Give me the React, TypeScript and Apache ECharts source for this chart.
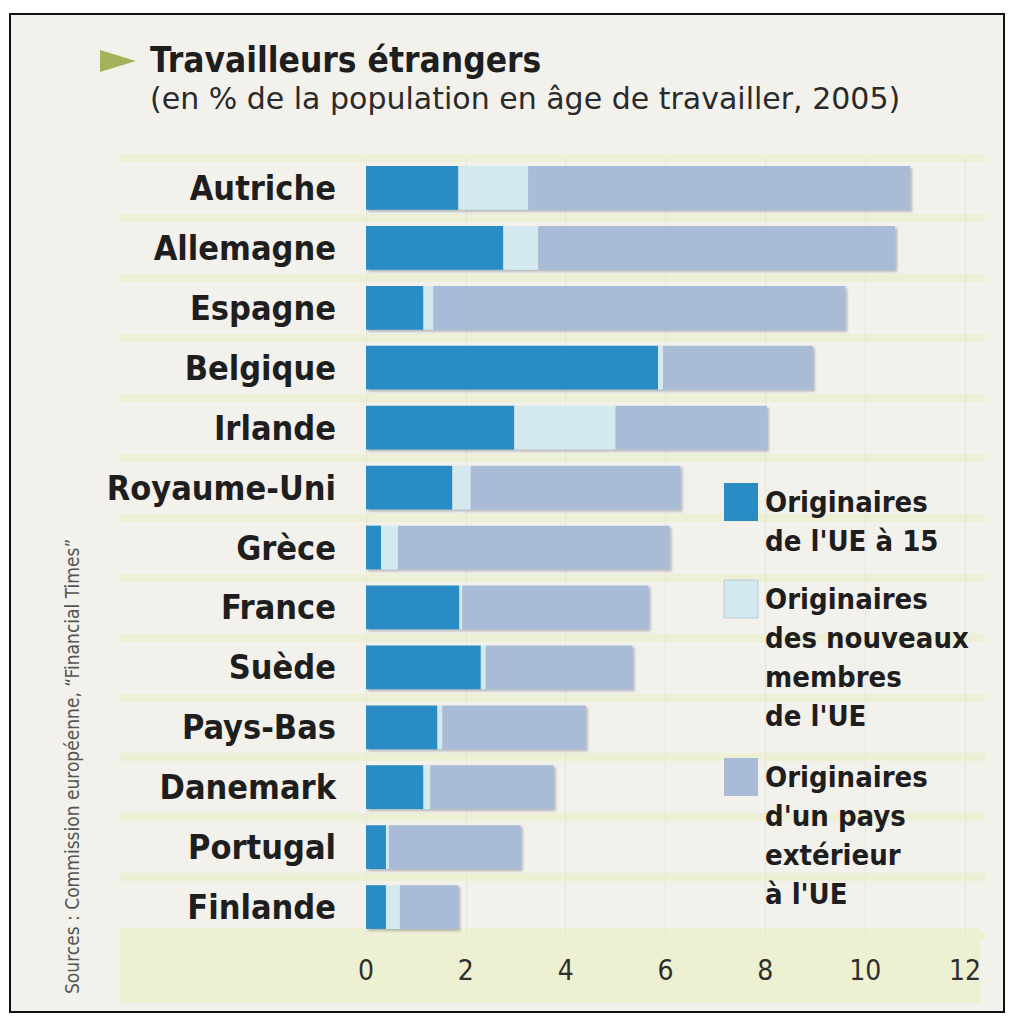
import React, { useEffect, useRef } from "react";
import * as echarts from "echarts";

const categories = [
  "Autriche", "Allemagne", "Espagne", "Belgique", "Irlande", "Royaume-Uni",
  "Grèce", "France", "Suède", "Pays-Bas", "Danemark", "Portugal", "Finlande",
];
const ue15 = [1.85, 2.75, 1.15, 5.85, 2.97, 1.73, 0.3, 1.87, 2.3, 1.43, 1.15, 0.4, 0.4];
const nouveauxMembres = [1.4, 0.7, 0.2, 0.1, 2.03, 0.37, 0.34, 0.06, 0.1, 0.1, 0.14, 0.06, 0.28];
const paysExterieurs = [7.65, 7.15, 8.25, 3.0, 3.03, 4.2, 5.44, 3.73, 2.94, 2.87, 2.47, 2.64, 1.17];
const xTicks = [0, 2, 4, 6, 8, 10, 12];

const seriesNames = [
  "Originaires\nde l'UE à 15",
  "Originaires\ndes nouveaux\nmembres\nde l'UE",
  "Originaires\nd'un pays\nextérieur\nà l'UE",
];
const colors = ["#2a8cc4", "#d3e8ef", "#a9bbd7"];

const FONT = "'DejaVu Sans Condensed', 'Liberation Sans Narrow', 'DejaVu Sans', sans-serif";
const FONT_WIDE = "'DejaVu Sans', sans-serif";

export default function App() {
  const ref = useRef<HTMLDivElement>(null);
  useEffect(() => {
    document.body.style.margin = "0";
    const chart = echarts.init(ref.current!, undefined, { renderer: "svg" });
    const barStyle = (c: string) => ({
      color: c,
      shadowColor: "rgba(60,70,90,0.35)",
      shadowOffsetX: 2,
      shadowOffsetY: 2,
      shadowBlur: 2,
    });
    chart.setOption({
      animation: false,
      backgroundColor: "#ffffff",
      grid: [
        { left: 366, right: 46, top: 158, bottom: 84 },
        { left: 120, right: 26, top: 158, bottom: 84 },
      ],
      xAxis: [
        {
          gridIndex: 0,
          type: "value",
          min: 0,
          max: 12,
          interval: 2,
          axisLine: { show: false },
          axisTick: { show: false },
          splitLine: { show: true, lineStyle: { color: "#e6e6da", width: 1 } },
          axisLabel: {
            margin: 19,
            fontFamily: FONT,
            fontSize: 28,
            color: "#2e2e2e",
            formatter: (v: number) => (xTicks.includes(v) ? String(v) : ""),
          },
        },
        { gridIndex: 1, type: "value", show: false, min: 0, max: 1 },
      ],
      yAxis: [
        {
          gridIndex: 0,
          type: "category",
          data: categories,
          inverse: true,
          axisLine: { show: false },
          axisTick: { show: false },
          splitLine: { show: false },
          axisLabel: {
            margin: 30,
            fontFamily: FONT,
            fontWeight: "bold",
            fontSize: 34,
            color: "#1e1e1e",
          },
        },
        {
          gridIndex: 1,
          type: "category",
          data: categories,
          inverse: true,
          axisLine: { show: false },
          axisTick: { show: false },
          axisLabel: { show: false },
          splitLine: { show: true, lineStyle: { color: "#eef0d6", width: 8 } },
        },
      ],
      series: [
        {
          name: seriesNames[0],
          type: "bar",
          stack: "total",
          barWidth: "73%",
          data: ue15,
          itemStyle: barStyle(colors[0]),
        },
        {
          name: seriesNames[1],
          type: "bar",
          stack: "total",
          barWidth: "73%",
          data: nouveauxMembres,
          itemStyle: barStyle(colors[1]),
        },
        {
          name: seriesNames[2],
          type: "bar",
          stack: "total",
          barWidth: "73%",
          data: paysExterieurs,
          itemStyle: barStyle(colors[2]),
        },
      ],
      graphic: [
        {
          type: "rect",
          z: -100,
          shape: { x: 10, y: 14, width: 994, height: 998 },
          style: { fill: "#f3f1ec", stroke: "#111", lineWidth: 2 },
        },
        {
          type: "rect",
          z: -90,
          shape: { x: 120, y: 928, width: 860, height: 75 },
          style: { fill: "#eef0d2" },
        },
        {
          type: "polygon",
          z: 100,
          shape: { points: [[100, 50], [136, 61], [100, 72]] },
          style: { fill: "#a3b35c" },
        },
        {
          type: "text",
          z: 100,
          x: 150,
          y: 42,
          style: {
            text: "Travailleurs étrangers",
            font: `bold 35px ${FONT}`,
            fill: "#1e1e1e",
          },
        },
        {
          type: "text",
          z: 100,
          x: 150,
          y: 83,
          style: {
            text: "(en % de la population en âge de travailler, 2005)",
            font: `30px ${FONT_WIDE}`,
            fill: "#2a2a2a",
          },
        },
        {
          type: "text",
          z: 100,
          rotation: Math.PI / 2,
          x: 62,
          y: 994,
          style: {
            text: "Sources : Commission européenne, \u201cFinancial Times\u201d",
            font: `19px ${FONT}`,
            fill: "#555",
          },
        },
        { type: "rect", z: 100, shape: { x: 724, y: 483, width: 34, height: 38 }, style: { fill: colors[0] } },
        { type: "rect", z: 100, shape: { x: 724, y: 580, width: 34, height: 38 }, style: { fill: colors[1], stroke: "#b8ccd6", lineWidth: 1 } },
        { type: "rect", z: 100, shape: { x: 724, y: 758, width: 34, height: 38 }, style: { fill: colors[2] } },
        {
          type: "text",
          z: 100,
          x: 765,
          y: 482,
          style: { text: seriesNames[0], font: `bold 29px ${FONT}`, lineHeight: 39, fill: "#1e1e1e" },
        },
        {
          type: "text",
          z: 100,
          x: 765,
          y: 579,
          style: { text: seriesNames[1], font: `bold 29px ${FONT}`, lineHeight: 39, fill: "#1e1e1e" },
        },
        {
          type: "text",
          z: 100,
          x: 765,
          y: 757,
          style: { text: seriesNames[2], font: `bold 29px ${FONT}`, lineHeight: 39, fill: "#1e1e1e" },
        },
      ],
    });
    return () => chart.dispose();
  }, []);
  return <div ref={ref} style={{ width: 1011, height: 1021 }} />;
}
